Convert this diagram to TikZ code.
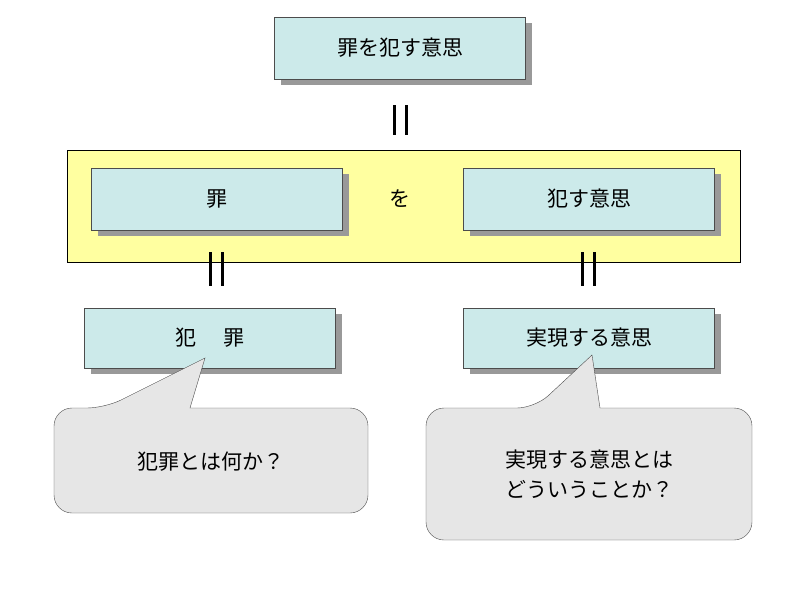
\documentclass[tikz,border=0pt]{standalone}
\usepackage{fontspec}
\setmainfont{Noto Sans CJK JP}
\usetikzlibrary{positioning,shadows}
\definecolor{boxcyan}{RGB}{204,234,234}
\definecolor{bandyellow}{RGB}{255,255,160}
\definecolor{calloutgray}{RGB}{230,230,230}
\tikzset{
  term/.style={draw=black!70, fill=boxcyan, minimum width=251pt, minimum height=62pt,
    font=\fontsize{21pt}{24pt}\selectfont,
    drop shadow={shadow xshift=6pt, shadow yshift=-6pt, fill=black!40, opacity=1}},
  eqbar/.style={line width=3pt},
  callout/.style={draw=black!70, fill=calloutgray, rounded corners=18pt},
  says/.style={font=\fontsize{21pt}{30pt}\selectfont, align=center}
}
\begin{document}
\begin{tikzpicture}[x=1pt,y=-1pt]
\useasboundingbox (0,0) rectangle (800,600);
\draw[fill=bandyellow] (67,150) rectangle (740,262);

\node[term] (whole) at (400,48) {罪を犯す意思};
\node[term] (crime) at (217,199) {罪};
\node[term] (intent) at (589,199) {犯す意思};
\node[font=\fontsize{21pt}{24pt}\selectfont] (wo) at (400,199) {を};
\node[term, minimum height=60pt] (hanzai) at (210,338) {犯\hspace{1.3em}罪};
\node[term, minimum height=60pt] (jitsugen) at (589,338) {実現する意思};

% equal bars
\foreach \x/\ya/\yb in {400/105/135, 216/252/286, 588/252/286} {
  \draw[eqbar] (\x-6,\ya) -- (\x-6,\yb);
  \draw[eqbar] (\x+6,\ya) -- (\x+6,\yb);
}

% callouts
\draw[callout] (190,408) -- (368,408) -- (368,513) -- (54,513) -- (54,408)
  -- (105,408) [sharp corners] -- (205,358) -- cycle;
\node[says] (q1) at (211,462) {犯罪とは何か？};
\draw[callout] (600,408) -- (752,408) -- (752,540) -- (426,540) -- (426,408)
  -- (535,408) [sharp corners] -- (592,355) -- cycle;
\node[says] (q2) at (589,474) {実現する意思とは\\どういうことか？};
\end{tikzpicture}
\end{document}
